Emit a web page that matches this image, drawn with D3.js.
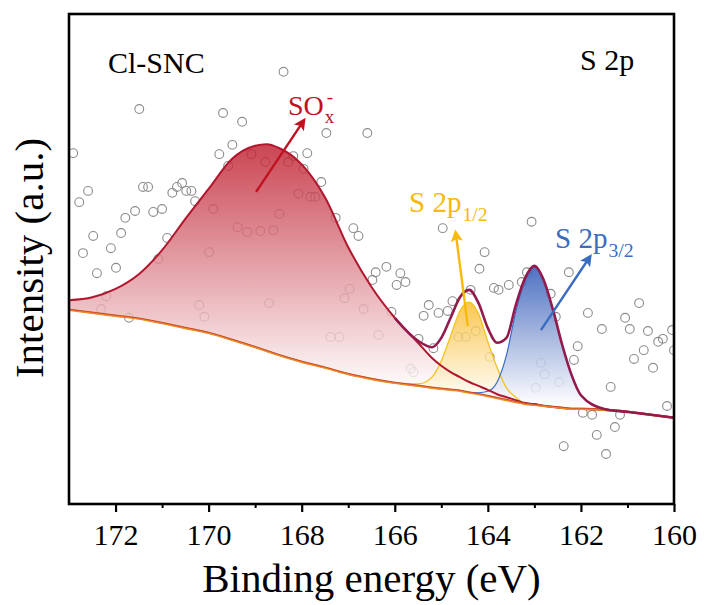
<!DOCTYPE html>
<html>
<head>
<meta charset="utf-8">
<script src="https://cdn.jsdelivr.net/npm/d3@7"></script>
<style>
  body { margin: 0; background: #fff; }
  text { font-family: "Liberation Serif", "Times New Roman", serif; }
</style>
</head>
<body>
<div class="box"></div>
<script>
// Fit grid (binding energy, eV) and fitted curves, intensity in a.u.
const fitEnergy = [173, 172.5, 172, 171.5, 171, 170.5, 170, 169.5, 169, 168.75, 168.5, 168, 167.5, 167, 166.5, 166,
  165.5, 165.2, 165, 164.8, 164.6, 164.4, 164.2, 164, 163.8, 163.6, 163.4, 163.2, 163, 162.8, 162.6, 162.4,
  162.2, 162, 161.5, 161, 160.5, 160];
const background = [39.6, 39.0, 38.4, 37.8, 36.9, 35.9, 34.9, 33.5, 32.0, 31.2, 30.4, 29.0, 27.8, 26.5, 25.5, 24.7,
  24.1, 23.7, 23.5, 23.3, 23.1, 22.7, 22.4, 22.0, 21.6, 21.2, 20.8, 20.4, 20.2, 20.0, 19.8, 19.6,
  19.4, 19.4, 19.2, 18.8, 18.2, 17.6];
const soxFit = [41.6, 42.2, 43.9, 46.9, 51.8, 58.2, 64.3, 70.4, 73.1, 73.4, 72.7, 69.3, 62.6, 52.4, 44.3, 38.0,
  32.9, 29.8, 28.2, 26.9, 25.9, 24.9, 24.1, 23.3, 22.4, 21.8, 21.2, 20.6, 20.4, 20.0, 19.8, 19.6,
  19.4, 19.4, 19.2, 18.8, 18.2, 17.6];
const s2p12Fit = [39.6, 39.0, 38.4, 37.8, 36.9, 35.9, 34.9, 33.5, 32.0, 31.2, 30.4, 29.0, 27.8, 26.5, 25.5, 24.7,
  24.5, 25.9, 29.2, 34.3, 39.4, 41.2, 38.8, 33.1, 27.8, 23.7, 21.8, 20.4, 20.2, 20.0, 19.8, 19.6,
  19.4, 19.4, 19.2, 18.8, 18.2, 17.6];
const s2p32Fit = [39.6, 39.0, 38.4, 37.8, 36.9, 35.9, 34.9, 33.5, 32.0, 31.2, 30.4, 29.0, 27.8, 26.5, 25.5, 24.7,
  24.1, 23.7, 23.5, 23.3, 23.1, 22.8, 22.7, 23.0, 24.9, 30.4, 39.2, 45.7, 48.4, 45.7, 39.6, 32.4,
  26.3, 22.2, 19.4, 18.8, 18.2, 17.6];
const envelope = [41.6, 42.2, 43.9, 46.9, 51.8, 58.2, 64.3, 70.4, 73.1, 73.4, 72.7, 69.3, 62.6, 52.4, 44.3, 38.0,
  33.3, 32.0, 33.9, 38.0, 42.2, 43.7, 41.0, 35.9, 32.9, 33.9, 40.6, 46.1, 48.6, 45.7, 39.6, 32.4,
  26.3, 22.2, 19.4, 18.8, 18.2, 17.6];

// Raw spectrum points
const rawEnergy = [172.91, 172.78, 172.70, 172.59, 172.48, 172.40, 172.31, 172.20, 172.10, 171.99, 171.88,
  171.79, 171.71, 171.58, 171.49, 171.41, 171.30, 171.19, 171.08, 171.00, 170.89, 170.78, 170.68, 170.57,
  170.48, 170.37, 170.29, 170.20, 170.09, 169.99, 169.90, 169.77, 169.69, 169.58, 169.49, 169.38, 169.28,
  169.17, 169.08, 168.89, 168.78, 168.70, 168.61, 168.48, 168.39, 168.29, 168.18, 168.07, 167.96, 167.88,
  167.81, 167.71, 167.58, 167.47, 167.38, 167.27, 167.19, 167.08, 166.97, 166.89, 166.78, 166.67, 166.59,
  166.48, 166.41, 166.35, 166.18, 166.07, 165.96, 165.88, 165.77, 165.66, 165.60, 165.49, 165.38, 165.27,
  165.17, 165.06, 164.97, 164.86, 164.76, 164.63, 164.48, 164.37, 164.26, 164.18, 164.07, 163.96, 163.87,
  163.77, 163.55, 163.27, 163.16, 163.06, 162.97, 162.86, 162.78, 162.65, 162.54, 162.47, 162.37, 162.26,
  162.15, 162.07, 161.96, 161.85, 161.76, 161.66, 161.55, 161.46, 161.36, 161.27, 161.16, 161.05, 160.95,
  160.86, 160.75, 160.65, 160.56, 160.45, 160.34, 160.24, 160.15, 160.04, 160.00];
const rawCounts = [71.6, 61.6, 51.2, 63.9, 54.7, 47.1, 39.8, 42.4, 52.2, 48.2, 55.3,
  58.4, 38.0, 59.8, 80.6, 64.7, 64.7, 59.6, 50.0, 60.2, 54.3, 63.5, 64.7, 65.5,
  63.9, 63.9, 61.8, 40.6, 38.2, 51.4, 60.2, 71.4, 79.8, 69.0, 73.3, 56.5, 78.0,
  55.5, 71.4, 55.7, 69.8, 41.0, 55.9, 59.2, 88.2, 69.8, 71.0, 63.3, 68.4, 71.6,
  62.7, 62.7, 65.7, 75.7, 34.1, 58.4, 34.1, 42.0, 43.9, 56.3, 54.7, 39.8, 75.7,
  45.7, 47.3, 34.5, 48.4, 39.2, 44.7, 47.1, 45.3, 27.6, 26.9, 33.7, 38.4, 40.6,
  31.8, 39.0, 56.3, 39.4, 41.4, 34.1, 34.1, 43.7, 35.3, 48.0, 51.4, 30.0, 44.1,
  43.7, 44.7, 45.3, 47.3, 57.6, 23.7, 28.8, 26.5, 42.9, 38.2, 24.9, 11.8, 47.3,
  29.4, 32.2, 18.6, 39.0, 18.2, 14.1, 35.7, 10.2, 23.9, 15.7, 18.2, 38.0, 35.7,
  29.6, 41.0, 31.4, 35.3, 27.8, 33.1, 33.7, 20.0, 35.5, 31.4];

const majorTicks = [172, 170, 168, 166, 164, 162, 160];
const minorTicks = [171, 169, 167, 165, 163, 161];

// Svg box
const w = 705;
const h = 605;
const plotLeft = 69, plotRight = 674, plotTop = 14, plotBottom = 504;

const x = d3.scaleLinear().domain([173, 160]).range([plotLeft, plotRight]);
const y = d3.scaleLinear().domain([0, 100]).range([plotBottom, plotTop]);

const svg = d3.select(".box")
  .append("svg")
  .attr("width", w)
  .attr("height", h)
  .style("background", "#fff");

const defs = svg.append("defs");
defs.append("clipPath").attr("id", "plot-clip")
  .append("rect")
  .attr("x", plotLeft).attr("y", plotTop)
  .attr("width", plotRight - plotLeft).attr("height", plotBottom - plotTop);

// Vertical gradients for the fitted peaks
function gradient(id, color, from, to) {
  const g = defs.append("linearGradient")
    .attr("id", id)
    .attr("gradientUnits", "userSpaceOnUse")
    .attr("x1", 0).attr("x2", 0)
    .attr("y1", y(from)).attr("y2", y(to));
  g.append("stop").attr("offset", 0).attr("stop-color", color);
  g.append("stop").attr("offset", 1).attr("stop-color", "#ffffff");
}
gradient("grad-sox", "#bf1d2d", 73.4, 23);
gradient("grad-p12", "#f8bb2c", 41.2, 21);
gradient("grad-p32", "#2f58b6", 48.6, 20);

const plot = svg.append("g").attr("clip-path", "url(#plot-clip)");

// Raw data circles
plot.selectAll("circle.raw")
  .data(rawEnergy)
  .enter()
  .append("circle")
  .attr("class", "raw")
  .attr("cx", d => x(d))
  .attr("cy", (d, i) => y(rawCounts[i]))
  .attr("r", 4.4)
  .attr("fill", "none")
  .attr("stroke", "#8c8c8c")
  .attr("stroke-width", 1.1);

const idx = d3.range(fitEnergy.length);
// envelope only shows on its own where the S 2p peaks start (166 eV and below)
const envIdx = idx.filter(i => fitEnergy[i] <= 166);

function areaOf(series) {
  return d3.area()
    .x(i => x(fitEnergy[i]))
    .y0(i => y(background[i]))
    .y1(i => y(series[i]))
    .curve(d3.curveMonotoneX);
}
function lineOf(series) {
  return d3.line()
    .x(i => x(fitEnergy[i]))
    .y(i => y(series[i]))
    .curve(d3.curveMonotoneX);
}

// Component fills
plot.append("path").attr("d", areaOf(soxFit)(idx))
  .attr("fill", "url(#grad-sox)").attr("fill-opacity", 0.82);
plot.append("path").attr("d", areaOf(s2p12Fit)(idx))
  .attr("fill", "url(#grad-p12)").attr("fill-opacity", 0.82);
plot.append("path").attr("d", areaOf(s2p32Fit)(idx))
  .attr("fill", "url(#grad-p32)").attr("fill-opacity", 0.85);

// Component lines
plot.append("path").attr("d", lineOf(s2p12Fit)(idx))
  .attr("fill", "none").attr("stroke", "#f5c21b").attr("stroke-width", 1.3);
plot.append("path").attr("d", lineOf(s2p32Fit)(idx))
  .attr("fill", "none").attr("stroke", "#3a6cc2").attr("stroke-width", 1.2);
plot.append("path").attr("d", lineOf(soxFit)(idx))
  .attr("fill", "none").attr("stroke", "#b0162e").attr("stroke-width", 2);

// Background line
plot.append("path").attr("d", lineOf(background)(idx))
  .attr("fill", "none").attr("stroke", "#ee8a25").attr("stroke-width", 2.2);
plot.append("path").attr("d", lineOf(background)(idx))
  .attr("transform", "translate(0,-0.8)")
  .attr("fill", "none").attr("stroke", "#c2392c").attr("stroke-width", 0.8);

// Envelope
plot.append("path").attr("d", lineOf(envelope)(envIdx))
  .attr("fill", "none").attr("stroke", "#921a4c").attr("stroke-width", 2.6);

// Arrows
const arrows = [
  { id: "arr-sox", color: "#c0111f", from: [168.98, 63.7], to: [167.96, 78.2] },
  { id: "arr-p12", color: "#f7b90a", from: [164.43, 36.3], to: [164.69, 55.3] },
  { id: "arr-p32", color: "#3a6cc2", from: [162.86, 35.5], to: [161.81, 50.4] }
];
arrows.forEach(a => {
  defs.append("marker")
    .attr("id", a.id)
    .attr("viewBox", "0 0 10 10")
    .attr("refX", 7).attr("refY", 5)
    .attr("markerUnits", "userSpaceOnUse")
    .attr("markerWidth", 14).attr("markerHeight", 12)
    .attr("orient", "auto")
    .append("path")
    .attr("d", "M0,0 L10,5 L0,10 L2,5 z")
    .attr("fill", a.color);
  svg.append("line")
    .attr("x1", x(a.from[0])).attr("y1", y(a.from[1]))
    .attr("x2", x(a.to[0])).attr("y2", y(a.to[1]))
    .attr("stroke", a.color)
    .attr("stroke-width", 2.4)
    .attr("marker-end", "url(#" + a.id + ")");
});

// Peak labels
function peakLabel(px, py, size, color, main, sub, sup) {
  const t = svg.append("text")
    .attr("x", px).attr("y", py)
    .style("font-size", size + "px")
    .attr("fill", color)
    .text(main);
  const mainWidth = t.node().getComputedTextLength();
  t.append("tspan")
    .attr("x", px + mainWidth + 1)
    .attr("dy", size * 0.3)
    .style("font-size", (size * 0.68) + "px")
    .text(sub);
  if (sup) {
    t.append("tspan")
      .attr("x", px + mainWidth + 3)
      .attr("dy", -size * 0.72)
      .style("font-size", (size * 0.68) + "px")
      .text(sup);
  }
}
peakLabel(288, 115, 28, "#c0111f", "SO", "x", "-");
peakLabel(409, 212, 29, "#f7b90a", "S 2p", "1/2");
peakLabel(555, 248, 29, "#3a6cc2", "S 2p", "3/2");

// Panel labels
svg.append("text").attr("x", 108).attr("y", 73)
  .style("font-size", "30px").text("Cl-SNC");
svg.append("text").attr("x", 580).attr("y", 70)
  .style("font-size", "30px").text("S 2p");

// Frame
svg.append("rect")
  .attr("x", plotLeft).attr("y", plotTop)
  .attr("width", plotRight - plotLeft).attr("height", plotBottom - plotTop)
  .attr("fill", "none")
  .attr("stroke", "#000")
  .attr("stroke-width", 2.6);

// Bottom axis, major and minor ticks
svg.append("g")
  .attr("transform", "translate(0," + plotBottom + ")")
  .call(d3.axisBottom(x).tickValues(majorTicks).tickSize(8).tickFormat(d3.format("d")))
  .call(g => g.select(".domain").remove())
  .call(g => g.attr("font-family", null))
  .call(g => g.selectAll("line").attr("stroke-width", 2.2))
  .call(g => g.selectAll("text")
    .attr("y", 41).attr("dy", 0)
    .attr("fill", "#000")
    .style("font-size", "30px"));

svg.append("g")
  .attr("transform", "translate(0," + plotBottom + ")")
  .call(d3.axisBottom(x).tickValues(minorTicks).tickSize(4).tickFormat(""))
  .call(g => g.select(".domain").remove())
  .call(g => g.selectAll("line").attr("stroke-width", 2));

// Axis titles
svg.append("text")
  .attr("x", (plotLeft + plotRight) / 2).attr("y", 592)
  .attr("text-anchor", "middle")
  .style("font-size", "41px")
  .text("Binding energy (eV)");

svg.append("text")
  .attr("transform", "translate(43," + 258 + ") rotate(-90)")
  .attr("text-anchor", "middle")
  .style("font-size", "41px")
  .text("Intensity (a.u.)");
</script>
</body>
</html>
